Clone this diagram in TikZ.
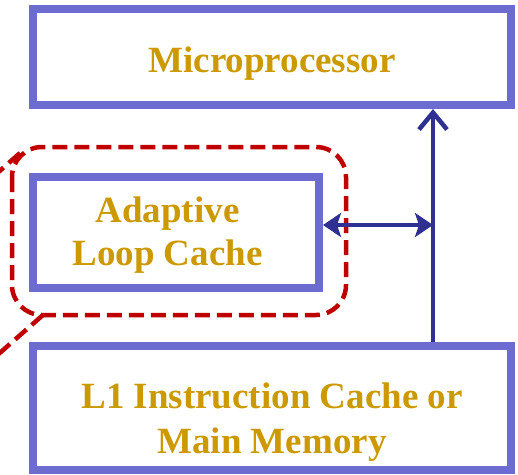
\documentclass[tikz,border=0pt]{standalone}
\usepackage{fontspec}
\setmainfont{Liberation Serif}
\usetikzlibrary{arrows.meta}
\definecolor{boxblue}{RGB}{108,108,208}
\definecolor{navy}{RGB}{46,49,146}
\definecolor{dred}{RGB}{192,0,0}
\definecolor{gold}{RGB}{204,153,0}
\tikzset{
  blockbox/.style={draw=boxblue, line width=8pt, fill=white, rectangle, inner sep=0pt},
  label text/.style={text=gold, font=\fontsize{37}{44}\selectfont\bfseries, anchor=base, inner sep=0pt},
  connector/.style={draw=navy, line width=4.5pt},
  groupline/.style={draw=dred, line width=4.5pt, dash pattern=on 15pt off 7pt},
  headtip/.tip={Stealth[length=18pt, width=24pt, inset=4pt]},
  bartip/.tip={Straight Barb[length=17pt, width=28pt]},
}
\begin{document}
\begin{tikzpicture}[x=1pt, y=-1pt]
\useasboundingbox (0,0) rectangle (518,474);
\clip (0,0) rectangle (518,474);
% blocks
\node[blockbox, minimum width=478pt, minimum height=96pt] (micro) at (272,57) {};
\node[blockbox, minimum width=286pt, minimum height=111pt] (alc) at (176,232.5) {};
\node[blockbox, minimum width=478pt, minimum height=124pt] (mem) at (272,408) {};
% texts
\node[label text] (tmicro) at (272,72) {Microprocessor};
\node[label text] (talc1) at (167.5,222) {Adaptive};
\node[label text] (talc2) at (167.5,265) {Loop Cache};
\node[label text] (tmem1) at (272,408) {L1 Instruction Cache or};
\node[label text] (tmem2) at (272,453) {Main Memory};
% dashed group outline and callout lines
\draw[groupline, rounded corners=30pt] (12,147) rectangle (346,315);
\coordinate (g1) at (20,153);
\coordinate (g1end) at (-6,176);
\coordinate (g2) at (43,315);
\coordinate (g2end) at (-6,358);
\draw[groupline] (g1) -- (g1end);
\draw[groupline] (g2) -- (g2end);
% connectors
\coordinate (j) at (433,225);
\draw[connector, -bartip] (j |- mem.north) -- (j |- micro.south);
\draw[connector, headtip-headtip] (j -| alc.east) -- (j);
\end{tikzpicture}
\end{document}
